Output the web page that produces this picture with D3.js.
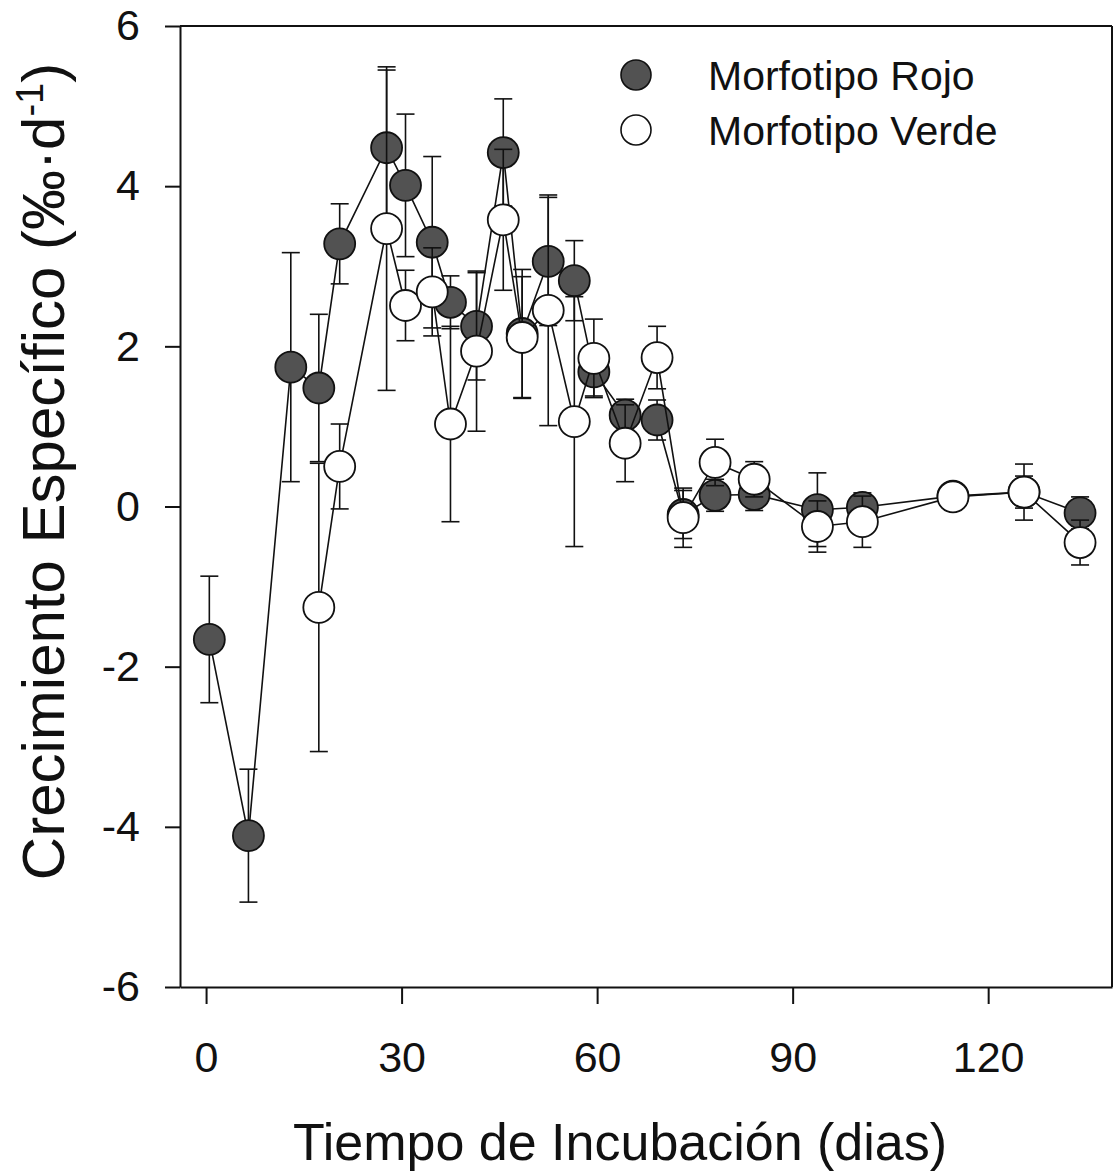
<!DOCTYPE html>
<html>
<head>
<meta charset="utf-8">
<script src="https://cdn.jsdelivr.net/npm/d3@7"></script>
<style>
  html, body { margin: 0; padding: 0; background: #fff; }
  svg { display: block; font-family: "Liberation Sans", Arial, sans-serif; }
</style>
</head>
<body>
<svg id="chart" width="1113" height="1174"></svg>
<script>
// Sampling days (incubation time)
const diasRojo = [0.5, 6.5, 13, 17.3, 20.5, 27.7, 30.6, 34.7, 37.5, 41.5, 45.6, 48.5, 52.5, 56.5, 59.5, 64.3, 69.2, 73.2, 78.1, 84.1, 93.8, 100.7, 114.6, 125.5, 134.1];
const diasVerde = [17.3, 20.5, 27.7, 30.6, 34.7, 37.5, 41.5, 45.6, 48.5, 52.5, 56.5, 59.5, 64.3, 69.2, 73.2, 78.1, 84.1, 93.8, 100.7, 114.6, 125.5, 134.1];

// Specific growth (‰·d-1), mean and error
const rojo = [-1.66, -4.11, 1.74, 1.48, 3.28, 4.48, 4.01, 3.30, 2.55, 2.25, 4.42, 2.16, 3.06, 2.82, 1.68, 1.14, 1.08, -0.10, 0.14, 0.15, -0.04, -0.01, 0.13, 0.18, -0.08];
const errRojo = [0.79, 0.83, 1.43, 0.92, 0.50, 0.97, 0.89, 1.07, 0.33, 0.67, 0.67, 0.80, 0.80, 0.50, 0.30, 0.20, 0.25, 0.30, 0.20, 0.20, 0.46, 0.18, 0.10, 0.20, 0.20];
const verde = [-1.26, 0.50, 3.47, 2.51, 2.68, 1.03, 1.94, 3.58, 2.11, 2.45, 1.06, 1.85, 0.79, 1.86, -0.14, 0.55, 0.34, -0.25, -0.19, 0.12, 0.18, -0.45];
const errVerde = [1.80, 0.53, 2.02, 0.44, 0.55, 1.22, 1.00, 0.88, 0.76, 1.44, 1.56, 0.49, 0.48, 0.39, 0.37, 0.29, 0.22, 0.32, 0.32, 0.10, 0.35, 0.28];

// Axis ticks and labels
const xTicks = [0, 30, 60, 90, 120];
const yTicks = [-6, -4, -2, 0, 2, 4, 6];
const legendLabels = ["Morfotipo Rojo", "Morfotipo Verde"];
const xTitle = "Tiempo de Incubación (dias)";
const yTitle = "Crecimiento Específico (‰·d";

const svg = d3.select("#chart");

const x = d3.scaleLinear().domain([-4, 139]).range([180, 1112]);
const y = d3.scaleLinear().domain([-6, 6]).range([987, 26]);

const ink = "#111";
const fmt = d => String(d);  // plain hyphen for negatives

// Frame (top and right sides)
svg.append("line").attr("x1", 180).attr("x2", 1112).attr("y1", y(6)).attr("y2", y(6))
  .attr("stroke", ink).attr("stroke-width", 2);
svg.append("line").attr("x1", 1112).attr("x2", 1112).attr("y1", y(6)).attr("y2", y(-6))
  .attr("stroke", ink).attr("stroke-width", 2);

// Bottom axis
const gx = svg.append("g").attr("transform", `translate(0,${y(-6)})`)
  .call(d3.axisBottom(x).tickValues(xTicks).tickFormat(fmt).tickSize(17).tickPadding(37).tickSizeOuter(0));
gx.select(".domain").attr("stroke", ink).attr("stroke-width", 2);
gx.selectAll(".tick line").attr("stroke", ink).attr("stroke-width", 2);
gx.selectAll(".tick text").attr("font-size", 43).attr("fill", ink)
  .attr("font-family", "Liberation Sans, Arial, sans-serif");

// Left axis
const gy = svg.append("g").attr("transform", `translate(${x(-4)},0)`)
  .call(d3.axisLeft(y).tickValues(yTicks).tickFormat(fmt).tickSize(15).tickPadding(25).tickSizeOuter(0));
gy.select(".domain").attr("stroke", ink).attr("stroke-width", 2);
gy.selectAll(".tick line").attr("stroke", ink).attr("stroke-width", 2);
gy.selectAll(".tick text").attr("font-size", 43).attr("fill", ink)
  .attr("font-family", "Liberation Sans, Arial, sans-serif");

// Axis titles
svg.append("text").attr("x", 620).attr("y", 1160).attr("text-anchor", "middle")
  .attr("font-size", 52).attr("fill", ink).text(xTitle);

const yt = svg.append("text").attr("transform", `translate(64,${y(0) - 35}) rotate(-90)`)
  .attr("text-anchor", "middle").attr("font-size", 60).attr("fill", ink);
yt.append("tspan").text(yTitle);
yt.append("tspan").attr("baseline-shift", "super").attr("font-size", 38).text("-1");
yt.append("tspan").text(")");

function drawSeries(days, vals, errs, fill) {
  const pts = days.map((d, i) => ({ d, v: vals[i], e: errs[i] }));
  const g = svg.append("g");
  g.append("path").datum(pts)
    .attr("d", d3.line().x(p => x(p.d)).y(p => y(p.v)))
    .attr("fill", "none").attr("stroke", ink).attr("stroke-width", 1.6);
  const eb = g.selectAll(".eb").data(pts).join("g");
  eb.append("line").attr("x1", p => x(p.d)).attr("x2", p => x(p.d))
    .attr("y1", p => y(p.v + p.e)).attr("y2", p => y(p.v - p.e))
    .attr("stroke", ink).attr("stroke-width", 1.6);
  [1, -1].forEach(s => {
    eb.append("line").attr("x1", p => x(p.d) - 9).attr("x2", p => x(p.d) + 9)
      .attr("y1", p => y(p.v + s * p.e)).attr("y2", p => y(p.v + s * p.e))
      .attr("stroke", ink).attr("stroke-width", 1.6);
  });
  g.selectAll(".pt").data(pts).join("circle")
    .attr("cx", p => x(p.d)).attr("cy", p => y(p.v)).attr("r", 15.5)
    .attr("fill", fill).attr("stroke", ink).attr("stroke-width", 1.8);
}

drawSeries(diasRojo, rojo, errRojo, "#525252");
drawSeries(diasVerde, verde, errVerde, "#ffffff");

// Legend
const fills = ["#525252", "#ffffff"];
const lg = svg.append("g");
legendLabels.forEach((lab, i) => {
  const cy = 75 + i * 55;
  lg.append("circle").attr("cx", 636).attr("cy", cy).attr("r", 15)
    .attr("fill", fills[i]).attr("stroke", ink).attr("stroke-width", 1.6);
  lg.append("text").attr("x", 708).attr("y", cy + 15).attr("font-size", 41)
    .attr("fill", ink).text(lab);
});
</script>
</body>
</html>
